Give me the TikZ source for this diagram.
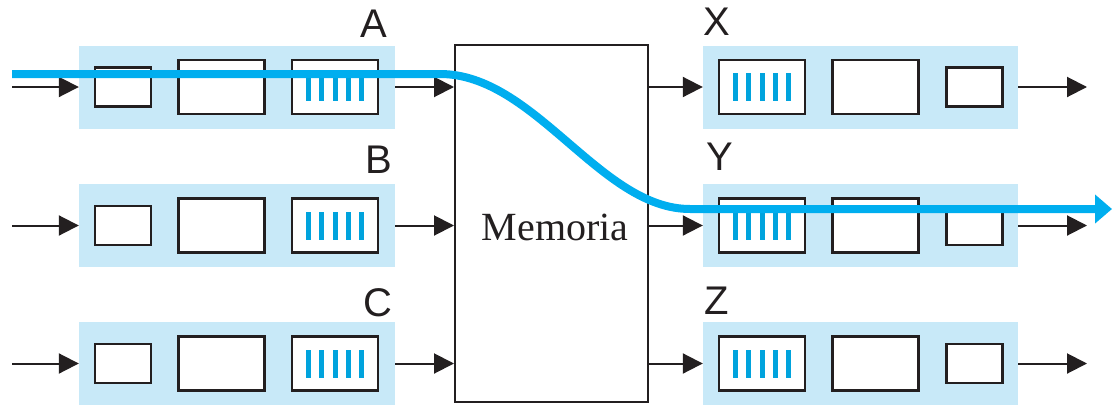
\documentclass[tikz,border=0pt]{standalone}
\usepackage{fontspec}
\setmainfont{Liberation Serif}
\newfontfamily\labfont{Liberation Sans}
\usetikzlibrary{arrows.meta}
\definecolor{lanefill}{HTML}{C8E9F8}
\definecolor{pathblue}{HTML}{00AEEF}
\definecolor{barblue}{HTML}{00A3DD}
\definecolor{ink}{HTML}{231F20}
\tikzset{
  lane/.style={draw=none, fill=lanefill, inner sep=0, minimum width=316, minimum height=83},
  smallbuf/.style={draw=ink, line width=2.6pt, fill=white, inner sep=0, minimum width=56, minimum height=39},
  bigbuf/.style={draw=ink, line width=2.6pt, fill=white, inner sep=0, minimum width=86, minimum height=54},
  barline/.style={draw=none, fill=barblue, inner sep=0, minimum width=5, minimum height=28},
  conn/.style={draw=ink, line width=2pt, -{Triangle[length=20pt,width=20pt]}},
  lbl/.style={font=\labfont\fontsize{40}{40}\selectfont, text=ink, anchor=base, inner sep=0},
  membox/.style={draw=ink, line width=2pt, fill=white, inner sep=0, minimum width=193, minimum height=357},
  flow/.style={draw=pathblue, line width=8pt, -{Triangle[length=17pt,width=28pt]}}
}
\begin{document}
\begin{tikzpicture}[x=1pt,y=-1pt]
\useasboundingbox (0,0) rectangle (1113,407);
% lanes
\node[lane] (laneA) at (237,87) {};
\node[lane] (laneB) at (237,225.5) {};
\node[lane] (laneC) at (237,363.5) {};
\node[lane,minimum width=315] (laneX) at (860.5,87) {};
\node[lane,minimum width=315] (laneY) at (860.5,225.5) {};
\node[lane,minimum width=315] (laneZ) at (860.5,363.5) {};
% left buffers
\foreach \r/\c in {A/87,B/225.5,C/363.5}{
  \node[smallbuf] (s\r) at (123,\c) {};
  \node[bigbuf] (m\r) at (221.5,\c) {};
  \node[bigbuf] (q\r) at (335,\c) {};
  \foreach \k/\dx in {1/-26.5,2/-13.25,3/0,4/13.25,5/26.5}{
    \node[barline] (b\r\k) at (335+\dx,\c) {};
  }
}
% right buffers
\foreach \r/\c in {X/87,Y/225.5,Z/363.5}{
  \node[bigbuf] (q\r) at (762,\c) {};
  \node[bigbuf] (m\r) at (875.5,\c) {};
  \node[smallbuf] (s\r) at (974.5,\c) {};
  \foreach \k/\dx in {1/-26.5,2/-13.25,3/0,4/13.25,5/26.5}{
    \node[barline] (b\r\k) at (762+\dx,\c) {};
  }
}
% memory
\node[membox] (mem) at (551.5,223.5) {};
% labels
\node[lbl] (tA) at (374,37) {A};
\node[lbl] (tB) at (379,173) {B};
\node[lbl] (tC) at (378,316) {C};
\node[lbl] (tX) at (717,35) {X};
\node[lbl] (tY) at (720,170) {Y};
\node[lbl] (tZ) at (717,314) {Z};
% connectors
\foreach \r/\c in {A/87,B/225.5,C/363.5}{
  \coordinate (in\r) at (12,\c);
  \draw[conn] (in\r) -- (lane\r.west);
  \draw[conn] (lane\r.east) -- (lane\r.east -| mem.west);
}
\foreach \r/\c in {X/87,Y/225.5,Z/363.5}{
  \coordinate (out\r) at (1087,\c);
  \draw[conn] (mem.east |- lane\r.west) -- (lane\r.west);
  \draw[conn] (lane\r.east) -- (out\r);
}
% flow path
\coordinate (fs) at (12,74);
\coordinate (f1) at (440,74);
\coordinate (f2) at (690,209);
\coordinate (fe) at (1112,209);
\draw[flow] (fs) -- (f1) .. controls (535,74) and (600,209) .. (f2) -- (fe);
\node[inner sep=0, font=\fontsize{40}{40}\selectfont, text=ink, anchor=base] (memtext) at (555,240) {Memoria};
\end{tikzpicture}
\end{document}
